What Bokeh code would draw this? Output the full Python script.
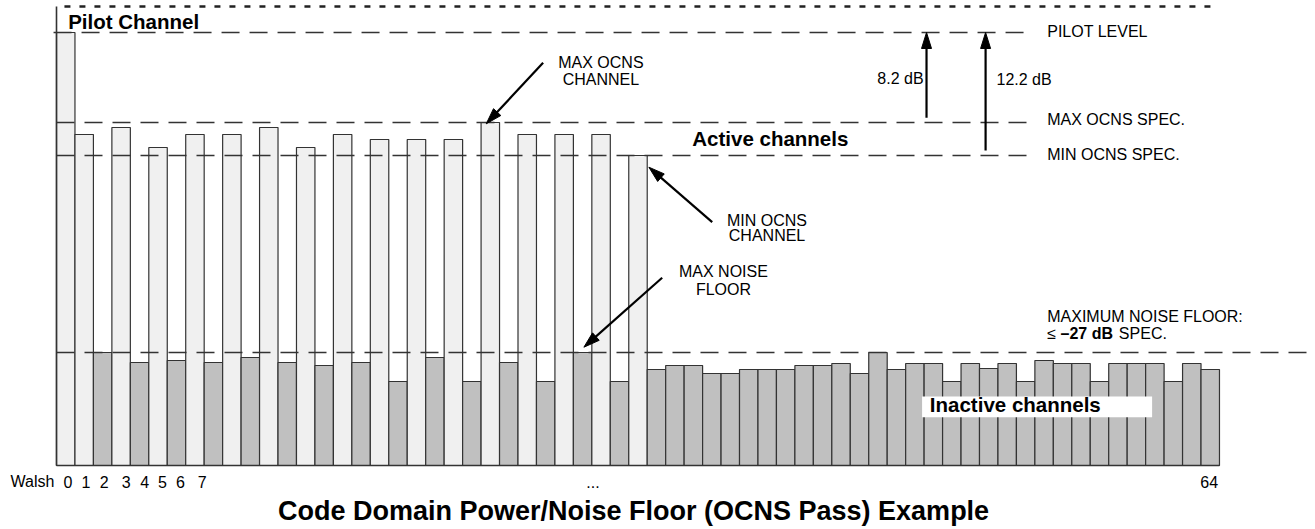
import math
from bokeh.plotting import figure
from bokeh.models import Range1d
from bokeh.core.properties import value
from bokeh.embed import file_html
from bokeh.resources import INLINE

# ---------------- data ----------------
channels = list(range(63))
active_channels = [0, 1, 3, 5, 7, 9, 11, 13, 15, 17, 19, 21, 23, 25, 27, 29, 31]
power = [433, 331, 113, 338, 103, 318, 105, 331, 103, 331,
         108, 338, 103, 318, 100, 331, 103, 326, 84, 326,
         108, 326, 84, 343, 103, 331, 84, 331, 113, 331,
         84, 310,
         96, 100, 100, 92, 92, 96, 96, 96, 100, 100,
         102, 92, 113, 96, 102, 102, 84, 102, 97, 102,
         84, 105, 102, 102, 84, 102, 102, 102, 84, 102, 96]
PILOT_LEVEL = 433
MAX_OCNS_SPEC = 343
MIN_OCNS_SPEC = 310
MAX_NOISE_SPEC = 113

tick_pos = [0.62, 1.60, 2.58, 3.78, 4.78, 5.74, 6.72, 7.89, 29.06, 62.44]
tick_labels = ["0", "1", "2", "3", "4", "5", "6", "7", "...", "64"]

# ---------------- figure ----------------
PX = 18.46  # pixels per channel
W, H = 1315, 529
x0 = -56 / PX
p = figure(width=W, height=H, output_backend="svg", toolbar_location=None,
           x_range=Range1d(x0, x0 + W / PX), y_range=Range1d(-64, 465),
           x_axis_location=None, y_axis_location=None, min_border=0)
p.outline_line_color = None
p.grid.visible = False
p.background_fill_color = "white"
p.border_fill_color = "white"

FONT = value("Liberation Sans")

light = "#f0f0f0"
dark = "#c0c0c0"
colors = [light if c in active_channels else dark for c in channels]
p.vbar(x=[c + 0.5 for c in channels], width=1, top=power, bottom=0,
       fill_color=colors, line_color="#333333", line_width=1.2)

# axis lines
p.segment(x0=[0, 0], y0=[0, 0], x1=[0, 63], y1=[459, 0],
          line_color="#333333", line_width=1.6)

# top dotted line
p.segment(x0=[0.43], y0=[459], x1=[62.89], y1=[459],
          line_color="#222222", line_width=2.5, line_dash="6 9")

# spec dashed lines
p.segment(x0=[-0.16, 0, 0, 0],
          y0=[PILOT_LEVEL, MAX_OCNS_SPEC, MIN_OCNS_SPEC, MAX_NOISE_SPEC],
          x1=[52.87, 52.98, 52.98, 69],
          y1=[PILOT_LEVEL, MAX_OCNS_SPEC, MIN_OCNS_SPEC, MAX_NOISE_SPEC],
          line_color="#333333", line_width=1.3, line_dash="18 10")

# arrows
def arrow(xs, ys, xe, ye, L=16.0, Wd=10.0):
    sx, sy, ex, ey = xs * PX, ys, xe * PX, ye
    dx, dy = ex - sx, ey - sy
    n = math.hypot(dx, dy)
    ux, uy = dx / n, dy / n
    bx, by = ex - ux * L, ey - uy * L
    nx, ny = -uy, ux
    pts = [(ex, ey), (bx + nx * Wd / 2, by + ny * Wd / 2), (bx - nx * Wd / 2, by - ny * Wd / 2)]
    p.line([xs, (bx + ux * 2) / PX], [ys, by + uy * 2], line_color="black", line_width=2.2)
    p.patch([q[0] / PX for q in pts], [q[1] for q in pts], fill_color="black", line_color="black", line_width=1)

arrow(26.36, 402.7, 23.28, 341.7)
arrow(35.52, 243.3, 32.09, 298.3)
arrow(32.81, 187.7, 28.57, 118.3)
arrow(47.13, 347.7, 47.13, PILOT_LEVEL)
arrow(50.33, 315.0, 50.33, PILOT_LEVEL)

# white box behind "Inactive channels"
p.quad(left=[46.89], right=[59.35], bottom=[48.3], top=[69], fill_color="white", line_color=None)

def txt(x, y, t, size=16.0, align="left", bold=False):
    shift = 0.4 * size  # compensate renderer baseline placement
    p.text(x=x, y=[v + shift for v in y], text=t, text_font=FONT,
           text_font_size=f"{size}px",
           text_align=align, text_baseline="alphabetic", text_color="black",
           text_font_style="bold" if bold else "normal")

txt([29.49, 29.49, 38.49, 38.49, 36.13, 36.13],
    [396.7, 379.7, 239.0, 223.3, 187.7, 170.0],
    ["MAX OCNS", "CHANNEL", "MIN OCNS", "CHANNEL", "MAX NOISE", "FLOOR"], align="center")
txt([53.67, 53.67, 53.67, 50.92, 53.67, 53.67, 57.55],
    [427.7, 339.3, 304.3, 380.0, 142.3, 126.0, 126.0],
    ["PILOT LEVEL", "MAX OCNS SPEC.", "MIN OCNS SPEC.", "12.2 dB",
     "MAXIMUM NOISE FLOOR:", "\u2264", "SPEC."])
txt([54.39], [126.0], ["\u201327 dB"], bold=True)
txt([46.97], [380.5], ["8.2 dB"], align="right")

txt([0.63], [435.7], ["Pilot Channel"], size=20.5, bold=True)
txt([34.44], [319.3], ["Active channels"], size=20.5, bold=True)
txt([47.31], [53.3], ["Inactive channels"], size=20.5, bold=True)

txt([-2.49], [-22.7], ["Walsh"])
txt(tick_pos, [-23.0] * len(tick_pos), tick_labels, align="center")

txt([31.26], [-56.5], ["Code Domain Power/Noise Floor (OCNS Pass) Example"],
    size=27.0, align="center", bold=True)

open("out.html", "w").write(file_html(p, INLINE))
